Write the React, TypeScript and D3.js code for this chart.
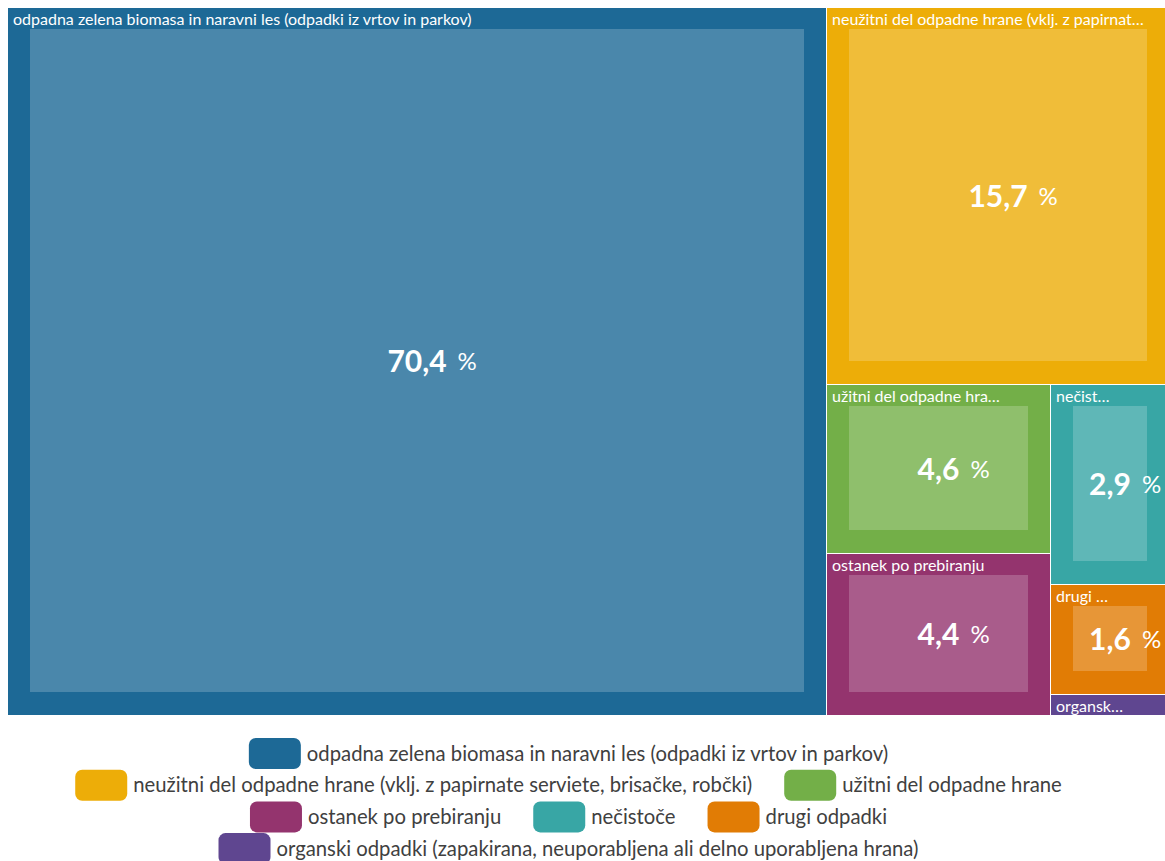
import React, { useEffect, useRef } from 'react';
import * as d3 from 'd3';

const categories = [
    'odpadna zelena biomasa in naravni les (odpadki iz vrtov in parkov)',
    'neužitni del odpadne hrane (vklj. z papirnate serviete, brisačke, robčki)',
    'užitni del odpadne hrane',
    'ostanek po prebiranju',
    'nečistoče',
    'drugi odpadki',
    'organski odpadki (zapakirana, neuporabljena ali delno uporabljena hrana)',
];

// labels as they appear cut off inside the cells
const cellLabels = [
    'odpadna zelena biomasa in naravni les (odpadki iz vrtov in parkov)',
    'neužitni del odpadne hrane (vklj. z papirnat…',
    'užitni del odpadne hra…',
    'ostanek po prebiranju',
    'nečist…',
    'drugi …',
    'organsk…',
];

const shares = [70.4, 15.7, 4.6, 4.4, 2.9, 1.6, 0.3];

const colors = ['#1D6996', '#EDAD08', '#73AF48', '#94346E', '#38A6A5', '#E17C05', '#5F4690'];

const width = 1165;
const height = 861;

const App: React.FC = () => {
    const ref = useRef<SVGSVGElement>(null);

    useEffect(() => {
        const svg = d3.select(ref.current);
        svg.selectAll('*').remove();

        const rows = categories.map((c, i) => ({ name: c, value: shares[i], color: colors[i], short: cellLabels[i] }));

        const root = d3.hierarchy<any>({ children: rows })
            .sum((d: any) => d.value || 0)
            .sort((a, b) => (b.value || 0) - (a.value || 0));

        // the map runs a little past the right edge of the window
        d3.treemap<any>()
            .tile(d3.treemapSquarify.ratio(1))
            .size([1161, 707])
            .paddingInner(1)
            .round(true)(root);

        const g = svg.append('g').attr('transform', 'translate(8,8)');

        const cell = g.selectAll('g.cell')
            .data(root.leaves() as d3.HierarchyRectangularNode<any>[])
            .enter()
            .append('g')
            .attr('class', 'cell');

        cell.append('clipPath')
            .attr('id', (d, i) => `clip${i}`)
            .append('rect')
            .attr('x', d => d.x0)
            .attr('y', d => d.y0)
            .attr('width', d => d.x1 - d.x0)
            .attr('height', d => d.y1 - d.y0);

        cell.append('rect')
            .attr('x', d => d.x0)
            .attr('y', d => d.y0)
            .attr('width', d => d.x1 - d.x0)
            .attr('height', d => d.y1 - d.y0)
            .attr('fill', d => d.data.color);

        const pad = 22;
        const big = cell.filter(d => d.x1 - d.x0 > 60 && d.y1 - d.y0 > 60);

        big.append('rect')
            .attr('x', d => d.x0 + pad)
            .attr('y', d => d.y0 + pad - 1)
            .attr('width', d => d.x1 - d.x0 - pad * 2)
            .attr('height', d => d.y1 - d.y0 - pad * 2)
            .attr('fill', '#fff')
            .attr('fill-opacity', 0.2);

        cell.append('text')
            .attr('clip-path', (d, i) => `url(#clip${i})`)
            .attr('x', d => d.x0 + 5)
            .attr('y', d => d.y0 + 17)
            .attr('fill', '#fff')
            .style('font-family', 'Lato, sans-serif')
            .style('font-size', '16px')
            .text(d => d.data.short);

        big.each(function (d) {
            const cx = (d.x0 + d.x1) / 2;
            const cy = (d.y0 + d.y1) / 2;
            const num = d3.select(this).append('text')
                .attr('x', cx)
                .attr('y', cy)
                .attr('dy', '0.36em')
                .attr('text-anchor', 'middle')
                .attr('fill', '#fff')
                .style('font-family', 'Lato, sans-serif')
                .style('font-weight', 'bold')
                .style('font-size', '30px')
                .text(d3.format('.1f')(d.data.value).replace('.', ','));
            const w = (num.node() as SVGTextElement).getComputedTextLength();
            d3.select(this).append('text')
                .attr('x', cx + w / 2 + 11)
                .attr('y', cy)
                .attr('dy', '0.36em')
                .attr('fill', '#fff')
                .style('font-family', 'Lato, sans-serif')
                .style('font-size', '24px')
                .text('%');
        });

        // legend, wrapped into centred rows
        const legend = svg.append('g');
        const sw = 52, sh = 31, gapText = 6, gapItem = 32, maxRow = 1137, centerX = 568.5;
        const items = rows.map(r => {
            const it = legend.append('g');
            it.append('rect')
                .attr('width', sw)
                .attr('height', sh)
                .attr('rx', 7)
                .attr('fill', r.color);
            const t = it.append('text')
                .attr('x', sw + gapText)
                .attr('y', sh / 2)
                .attr('dy', '0.35em')
                .attr('fill', '#404040')
                .style('font-family', 'Lato, sans-serif')
                .style('font-size', '20.3px')
                .text(r.name);
            const w = sw + gapText + (t.node() as SVGTextElement).getComputedTextLength();
            return { it, w };
        });

        const lines: { it: any; w: number }[][] = [];
        let cur: { it: any; w: number }[] = [];
        let curW = 0;
        items.forEach(item => {
            const add = cur.length ? gapItem + item.w : item.w;
            if (cur.length && curW + add > maxRow) {
                lines.push(cur);
                cur = [item];
                curW = item.w;
            } else {
                cur.push(item);
                curW += add;
            }
        });
        if (cur.length) lines.push(cur);

        lines.forEach((line, li) => {
            const total = d3.sum(line, l => l.w) + gapItem * (line.length - 1);
            let x = centerX - total / 2;
            line.forEach(l => {
                l.it.attr('transform', `translate(${x}, ${738 + li * 31.7})`);
                x += l.w + gapItem;
            });
        });
    }, []);

    return <div style={{ position: 'fixed', left: 0, top: 0, width, height, background: '#fff', overflow: 'hidden' }}>
        <svg ref={ref} width={width} height={height} style={{ display: 'block' }}></svg>
    </div>;
};

export default App;
